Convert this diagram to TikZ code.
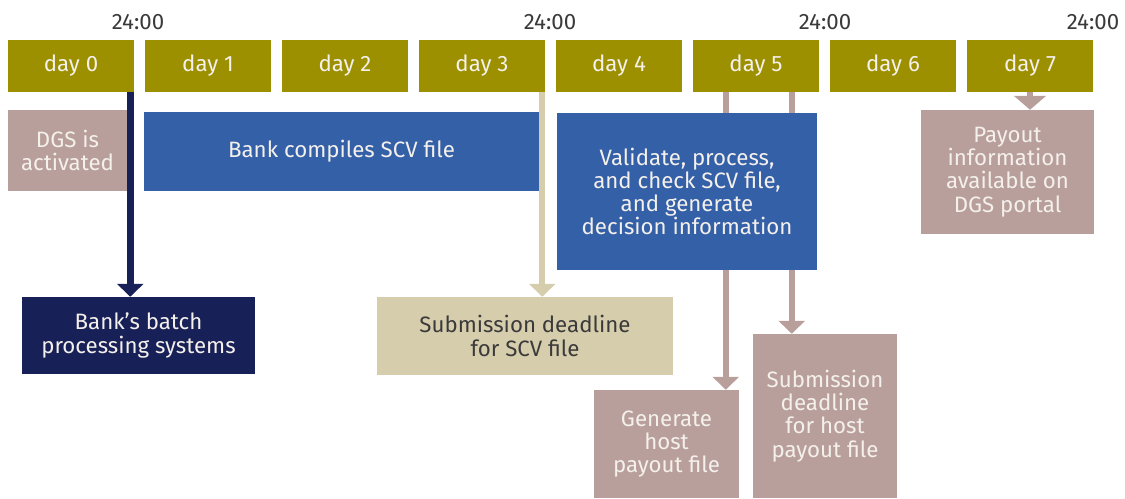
\documentclass[tikz,border=0pt]{standalone}
\usepackage{fontspec}
\setmainfont{Fira Sans}
\usetikzlibrary{arrows.meta, positioning}

\definecolor{dayolive}{RGB}{156,144,0}
\definecolor{navy}{RGB}{24,33,87}
\definecolor{bankblue}{RGB}{52,96,168}
\definecolor{rosy}{RGB}{185,159,155}
\definecolor{beige}{RGB}{214,205,173}
\definecolor{lighttext}{RGB}{244,240,236}
\definecolor{darktext}{RGB}{58,58,58}

\begin{document}
\begin{tikzpicture}[x=0.03cm, y=-0.03cm,
      box/.style={inner sep=0pt, align=center, text=lighttext, font=\fontsize{19}{19.8}\selectfont},
      daybox/.style={box, fill=dayolive, minimum width=3.78cm, minimum height=1.56cm},
      rosybox/.style={box, fill=rosy},
      bluebox/.style={box, fill=bankblue},
      navybox/.style={box, fill=navy},
      beigebox/.style={box, fill=beige, text=darktext},
      time/.style={font=\fontsize{19}{20}\selectfont, text=darktext, inner sep=0pt},
      arrow/.style={-{Triangle[width=0.78cm, length=0.39cm]}, line width=0.18cm}
      ]
    \useasboundingbox (0,0) rectangle (1125,498);

    % Days
    \foreach \i in {0,...,7}
      \node[daybox] (d\i) at (71+137*\i, 66) {day \i};

    % Times
    \node[time] (t0) at (138,22) {24:00};
    \node[time] (t3) at (550,22) {24:00};
    \node[time] (t5) at (825,22) {24:00};
    \node[time] (t7) at (1093,22) {24:00};

    % Nodes
    \node[rosybox, minimum width=3.57cm, minimum height=2.43cm] (dgs) at (67.5,150.5) {DGS is\\activated};
    \node[bluebox, minimum width=11.85cm, minimum height=2.37cm] (compile) at (341.5,151.5) {Bank compiles SCV file};
    \node[navybox, minimum width=6.99cm, minimum height=2.31cm] (batch) at (138.5,335.5) {Bank’s batch\\processing systems};
    \node[beigebox, minimum width=8.88cm, minimum height=2.34cm] (sub) at (525,336) {Submission deadline\\for SCV file};
    \node[rosybox, minimum width=5.19cm, minimum height=3.72cm] (payout) at (1007.5,172) {Payout\\information\\available on\\DGS portal};
    \node[rosybox, minimum width=4.35cm, minimum height=3.24cm] (gen) at (666.5,444) {Generate\\host\\payout file};
    \node[rosybox, minimum width=4.32cm, minimum height=4.92cm] (host) at (825,416) {Submission\\deadline\\for host\\payout file};

    % Arrows
    \draw[arrow, navy, line width=0.21cm] (d0.south east) ++(-4,0) coordinate (a0) -- (a0 |- batch.north);
    \draw[arrow, beige] (d3.south east) ++(-3,0) coordinate (a3) -- (a3 |- sub.north);
    \draw[arrow, rosy] (d5.south west) ++(33,0) coordinate (a5) -- (a5 |- gen.north);
    \draw[arrow, rosy] (d5.south west) ++(99,0) coordinate (b5) -- (b5 |- host.north);
    \draw[arrow, rosy, -{Triangle[width=0.95cm, length=0.42cm]}] (d7.south) -- (d7.south |- payout.north);

    % Validate box on top of the day 5 arrows
    \node[bluebox, minimum width=7.8cm, minimum height=4.71cm] (check) at (687,191.5) {Validate, process,\\and check SCV file,\\and generate\\decision information};

\end{tikzpicture}
\end{document}
